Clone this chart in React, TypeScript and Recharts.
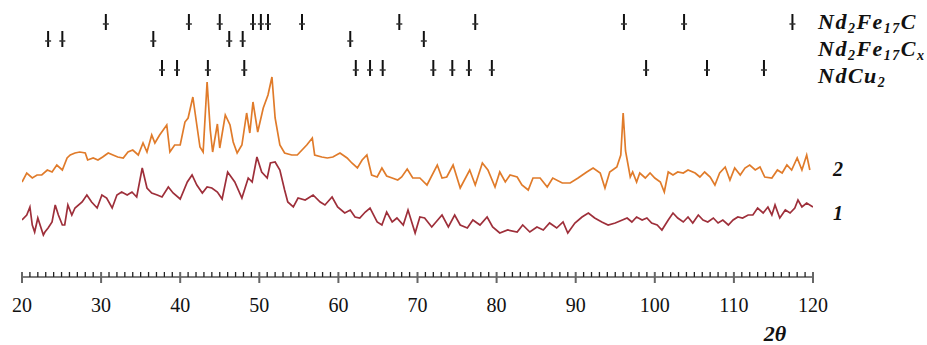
import React from 'react';
import { ComposedChart, Line, Scatter, XAxis, YAxis, Customized } from 'recharts';

// 2θ (deg), intensity (arb. units)
const series2: [number, number][] = [
  [20.0,95],[20.6,104],[21.3,99],[21.9,102],[22.5,102],[23.2,107],[23.8,105],[24.4,112],[25.1,107],[25.7,119],
  [26.1,122],[26.7,124],[27.3,125],[28.0,124],[28.3,117],[29.0,119],[29.6,117],[30.2,120],[30.9,124],[31.5,122],
  [32.1,120],[32.8,119],[33.4,125],[34.0,127],[34.7,122],[35.3,134],[35.8,125],[36.4,142],[36.8,134],[37.4,142],
  [38.3,152],[38.7,125],[39.3,132],[40.0,132],[40.6,155],[41.0,159],[41.6,180],[42.1,152],[42.5,130],[42.9,125],
  [43.4,195],[43.8,147],[44.1,125],[44.7,153],[45.0,129],[45.7,162],[46.3,152],[46.7,135],[47.2,124],[47.8,132],
  [48.4,164],[48.8,144],[49.2,175],[49.8,145],[50.5,169],[51.1,182],[51.6,200],[52.0,159],[52.6,132],[53.2,124],
  [54.1,122],[54.8,122],[55.4,127],[56.0,132],[56.7,139],[57.0,122],[57.9,120],[58.6,119],[59.3,120],[60.2,124],
  [61.1,119],[61.7,114],[62.4,109],[63.0,117],[63.6,122],[64.2,102],[64.9,100],[65.5,109],[66.1,101],[66.8,99],
  [67.5,97],[68.0,100],[68.7,108],[69.4,99],[70.3,99],[71.2,92],[72.5,112],[73.1,99],[73.7,100],[74.5,112],
  [75.4,89],[76.6,107],[77.3,92],[78.2,114],[78.9,107],[79.8,90],[80.4,105],[81.1,95],[81.7,102],[82.6,100],
  [83.2,92],[84.0,87],[84.6,99],[85.5,99],[86.4,90],[87.1,99],[88.3,94],[89.3,94],[90.3,99],[91.4,105],
  [92.2,109],[93.1,104],[93.7,89],[94.3,105],[95.2,110],[95.7,122],[96.0,164],[96.3,126],[96.9,100],[97.2,105],
  [97.7,95],[98.1,104],[98.8,99],[99.4,104],[100.0,99],[100.7,95],[101.2,85],[101.7,105],[102.3,102],[102.9,105],
  [103.6,104],[104.2,107],[105.1,104],[105.7,100],[106.3,105],[107.0,100],[107.6,92],[108.2,104],[108.9,110],[109.5,97],
  [110.1,109],[110.8,102],[111.4,109],[112.0,112],[112.7,107],[113.3,110],[113.9,100],[114.8,99],[115.5,107],[116.1,104],
  [116.7,112],[117.3,107],[118.0,119],[118.6,107],[119.2,122],[119.6,107],
];

const series1: [number, number][] = [
  [20.0,57],[20.6,62],[21.0,70],[21.3,52],[21.6,45],[22.0,59],[22.7,42],[22.9,45],[23.3,49],[23.8,55],
  [24.2,72],[24.6,62],[25.1,52],[25.4,52],[25.8,72],[26.3,62],[26.7,69],[27.6,75],[28.2,82],[28.8,75],
  [29.5,69],[30.1,82],[30.7,79],[31.4,69],[32.0,82],[32.6,85],[33.3,82],[33.9,85],[34.5,80],[35.2,109],
  [35.8,89],[36.4,84],[37.1,82],[37.7,80],[38.5,90],[39.1,84],[40.0,78],[40.9,95],[41.5,102],[42.1,92],
  [42.8,84],[43.4,90],[44.0,89],[44.7,85],[45.3,78],[46.0,105],[46.9,95],[47.8,79],[48.6,99],[49.1,95],
  [49.7,120],[50.3,105],[51.0,99],[51.4,114],[52.0,115],[52.6,107],[53.2,87],[53.6,75],[54.3,70],[54.9,79],
  [55.8,77],[56.8,82],[57.7,75],[58.3,72],[59.2,80],[59.9,70],[60.8,64],[61.5,67],[62.1,60],[62.7,59],
  [63.4,65],[64.0,69],[64.9,55],[65.5,52],[66.1,65],[66.8,55],[67.4,59],[68.2,52],[68.8,67],[69.7,44],
  [70.3,60],[70.9,59],[71.8,50],[73.1,62],[73.9,50],[74.7,62],[75.4,52],[76.3,49],[77.0,57],[77.9,52],
  [78.8,60],[79.5,50],[80.4,44],[81.4,47],[82.6,45],[83.3,52],[84.2,45],[85.1,50],[85.9,47],[86.7,54],
  [87.6,49],[88.4,55],[89.0,44],[89.9,54],[90.8,60],[91.6,64],[92.4,59],[93.3,55],[94.1,52],[95.0,54],
  [95.9,57],[96.5,59],[97.1,55],[97.7,60],[98.4,57],[99.0,59],[99.6,54],[100.3,52],[100.9,47],[101.7,57],
  [102.3,64],[102.9,59],[103.6,55],[104.2,60],[104.8,54],[105.5,62],[106.1,57],[106.7,55],[107.4,59],[108.0,54],
  [108.6,57],[109.3,52],[109.9,57],[110.5,60],[111.1,59],[111.8,62],[112.4,62],[113.0,69],[113.7,64],[114.3,70],
  [114.8,62],[115.2,72],[115.8,59],[116.5,67],[117.1,64],[117.7,69],[118.1,77],[118.6,70],[119.2,74],[120.0,70],
];

// reflection positions (2θ) of the three phases
const peaksNd2Fe17C = [30.6, 41.1, 45.0, 49.2, 50.2, 51.1, 55.4, 67.7, 77.3, 96.1, 103.7, 117.4];
const peaksNd2Fe17Cx = [23.3, 25.1, 36.6, 46.2, 47.9, 61.5, 70.8];
const peaksNdCu2 = [37.7, 39.6, 43.5, 48.1, 62.2, 64.0, 65.6, 72.0, 74.4, 76.5, 79.4, 98.9, 106.6, 113.8];
const phaseLevels = [263, 246, 217];

const majorTicks = [20, 30, 40, 50, 60, 70, 80, 90, 100, 110, 120];
const allTicks: number[] = [];
for (let t = 20; t <= 120; t += 1) allTicks.push(t);

const toPoints = (s: [number, number][]) => s.map(([x, y]) => ({ x, y }));
const toMarks = (arr: number[], level: number) => arr.map((x) => ({ x, y: level }));

const SERIF = "'Liberation Serif', 'Times New Roman', Tinos, 'DejaVu Serif', serif";

const AxisTick = (props: any) => {
  const { x, y, payload } = props;
  const v = payload.value as number;
  const major = majorTicks.includes(v);
  return (
    <g>
      <line x1={x} x2={x} y1={y - 5} y2={major ? y + 6 : y} stroke={major ? '#666' : '#222'} strokeWidth={major ? 2 : 1.3} />
      {major && (
        <text x={x} y={y + 35} textAnchor="middle" style={{ fontFamily: SERIF, fontSize: 20 }} fill="#111">
          {v}
        </text>
      )}
    </g>
  );
};

const Marker = (props: any) => {
  const { cx, cy } = props;
  return (
    <g>
      <line x1={cx} x2={cx} y1={cy} y2={cy + 16} stroke="#111" strokeWidth={2} />
      <line x1={cx - 3} x2={cx + 3} y1={cy + 10} y2={cy + 10} stroke="#333" strokeWidth={1.5} />
    </g>
  );
};

const Labels = () => {
  const sub = { fontSize: 14 } as const;
  const st = { fontFamily: SERIF, fontStyle: 'italic', fontWeight: 'bold' } as const;
  return (
    <g fill="#111">
      <text x={818} y={29} style={{ ...st, fontSize: 22, letterSpacing: 1.5 }}>
        <tspan>Nd</tspan><tspan dy={4} style={sub}>2</tspan><tspan dy={-4}>Fe</tspan><tspan dy={4} style={sub}>17</tspan><tspan dy={-4}>C</tspan>
      </text>
      <text x={818} y={56} style={{ ...st, fontSize: 22, letterSpacing: 1.5 }}>
        <tspan>Nd</tspan><tspan dy={4} style={sub}>2</tspan><tspan dy={-4}>Fe</tspan><tspan dy={4} style={sub}>17</tspan><tspan dy={-4}>C</tspan><tspan dy={4} style={sub}>x</tspan>
      </text>
      <text x={818} y={83} style={{ ...st, fontSize: 22, letterSpacing: 1.5 }}>
        <tspan>NdCu</tspan><tspan dy={4} style={sub}>2</tspan>
      </text>
      <text x={838} y={176} textAnchor="middle" style={{ ...st, fontSize: 20 }}>2</text>
      <text x={838} y={220} textAnchor="middle" style={{ ...st, fontSize: 20 }}>1</text>
      <text x={775} y={341} textAnchor="middle" style={{ ...st, fontSize: 22 }}>2θ</text>
    </g>
  );
};

export default function App() {
  return (
    <div style={{ position: 'absolute', left: 0, top: 0, width: 927, height: 345, background: '#fff' }}>
      <ComposedChart width={927} height={345} margin={{ top: 0, right: 114, bottom: 28, left: 22 }}>
        <XAxis
          type="number"
          dataKey="x"
          domain={[20, 120]}
          ticks={allTicks}
          interval={0}
          tick={<AxisTick />}
          tickLine={false}
          tickSize={0}
          tickMargin={0}
          height={40}
          axisLine={{ stroke: '#555', strokeWidth: 1.5 }}
          allowDataOverflow
        />
        <YAxis type="number" dataKey="y" domain={[0, 277]} hide />
        <Line data={toPoints(series2)} dataKey="y" stroke="#e07b2a" strokeWidth={1.7} dot={false} isAnimationActive={false} />
        <Line data={toPoints(series1)} dataKey="y" stroke="#9e2f3a" strokeWidth={1.7} dot={false} isAnimationActive={false} />
        <Scatter data={toMarks(peaksNd2Fe17C, phaseLevels[0])} shape={<Marker />} isAnimationActive={false} />
        <Scatter data={toMarks(peaksNd2Fe17Cx, phaseLevels[1])} shape={<Marker />} isAnimationActive={false} />
        <Scatter data={toMarks(peaksNdCu2, phaseLevels[2])} shape={<Marker />} isAnimationActive={false} />
        <Customized component={<Labels />} />
      </ComposedChart>
    </div>
  );
}
